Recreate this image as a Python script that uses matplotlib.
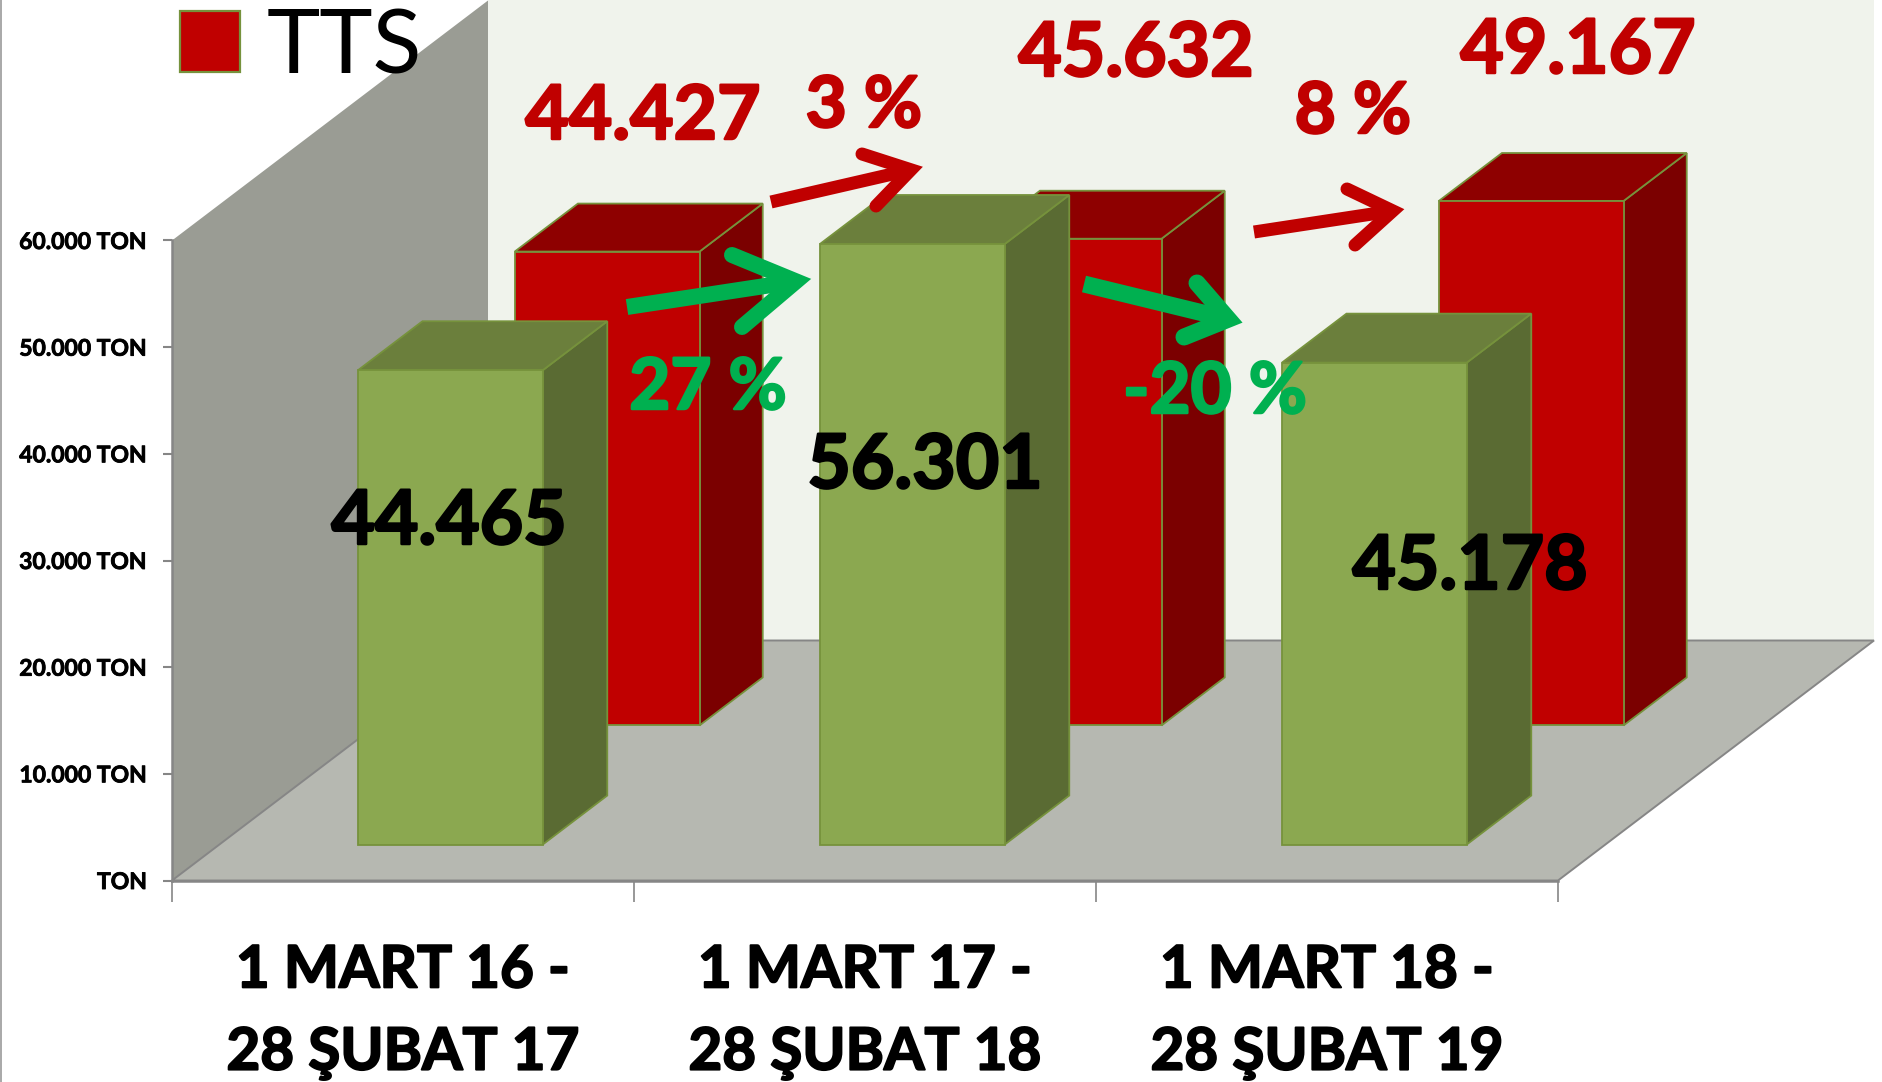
import math
import matplotlib
matplotlib.use('Agg')
import matplotlib.pyplot as plt
import matplotlib.patheffects as pe
from matplotlib.lines import Line2D
from matplotlib.patches import Patch
from matplotlib.transforms import IdentityTransform

W, H = 1882, 1082

categories = ['1 MART 16 -\n28 ŞUBAT 17', '1 MART 17 -\n28 ŞUBAT 18', '1 MART 18 -\n28 ŞUBAT 19']
tts_values = [44427, 45632, 49167]
green_values = [44465, 56301, 45178]
y_ticks = [0, 10000, 20000, 30000, 40000, 50000, 60000]
y_labels = ['TON', '10.000 TON', '20.000 TON', '30.000 TON', '40.000 TON', '50.000 TON', '60.000 TON']

# oblique depth of the 3d box, in data units
DX = 316 / 462
DY = 22500
BAR_X = 0.30
BAR_W = 0.40
GREEN_Z = (0.15, 0.354)
RED_Z = (0.646, 0.846)

EDGE = '#76923c'
GRAY = '#868686'
RED = ('#c00000', '#8e0000', '#7b0000')
GREEN = ('#8ba850', '#6b7f3c', '#5a6b33')
TXT_RED = '#c00000'
TXT_GREEN = '#00b050'
FONT = 'Lato'


def proj(x, v, z):
    return (x + z * DX, v + z * DY)


def heavy(color, w):
    # Lato bold is lighter than the original face, thicken it a bit
    return [pe.withStroke(linewidth=w, foreground=color)]


def box(ax, x, w, v, z, cols):
    z0, z1 = z
    front = [proj(x, 0, z0), proj(x + w, 0, z0), proj(x + w, v, z0), proj(x, v, z0)]
    top = [proj(x, v, z0), proj(x + w, v, z0), proj(x + w, v, z1), proj(x, v, z1)]
    side = [proj(x + w, 0, z0), proj(x + w, 0, z1), proj(x + w, v, z1), proj(x + w, v, z0)]
    for pts, c in zip((side, top, front), (cols[2], cols[1], cols[0])):
        ax.fill(*zip(*pts), facecolor=c, edgecolor=EDGE, linewidth=1.3, clip_on=False, zorder=3)


def label(ax, s, x, y, color, size=54):
    ax.annotate(s, (x, H - y), xycoords='figure pixels', ha='center', va='baseline',
                color=color, fontsize=size, fontweight='bold', family=FONT, zorder=6,
                annotation_clip=False, path_effects=heavy(color, 1.8))


def arrow(fig, tail, tip, barb1, barb2, color, px):
    lw = px * 0.72
    tr = IdentityTransform()
    # the miter join runs past the tip, so pull the drawn corner back along the shaft
    dx, dy = tip[0] - tail[0], tip[1] - tail[1]
    n = math.hypot(dx, dy)
    cx = tip[0] - dx / n * px * 0.95
    cy = tip[1] - dy / n * px * 0.95
    fig.add_artist(Line2D([tail[0], cx], [H - tail[1], H - cy], color=color, lw=lw,
                          solid_capstyle='butt', transform=tr, zorder=7))
    fig.add_artist(Line2D([barb1[0], cx, barb2[0]], [H - barb1[1], H - cy, H - barb2[1]],
                          color=color, lw=lw, solid_capstyle='round', solid_joinstyle='miter',
                          transform=tr, zorder=7))


fig = plt.figure(figsize=(W / 100, H / 100), dpi=100, facecolor='white')
ax = fig.add_axes([172 / W, (H - 880.5) / H, 1386 / W, 640 / H])
ax.set_xlim(0, 3)
ax.set_ylim(0, 60000)
ax.patch.set_visible(False)

# walls and floor
ax.fill(*zip(proj(0, 0, 1), proj(3, 0, 1), proj(3, 60000, 1), proj(0, 60000, 1)),
        facecolor='#f0f3ec', edgecolor='none', clip_on=False, zorder=1)
ax.fill(*zip(proj(0, 0, 0), proj(0, 0, 1), proj(0, 60000, 1), proj(0, 60000, 0)),
        facecolor='#9a9c94', edgecolor='none', clip_on=False, zorder=1)
ax.fill(*zip(proj(0, 0, 0), proj(3, 0, 0), proj(3, 0, 1), proj(0, 0, 1)),
        facecolor='#b6b8b1', edgecolor=GRAY, linewidth=1.4, clip_on=False, zorder=2)

for i in range(3):
    box(ax, i + BAR_X, BAR_W, tts_values[i], RED_Z, RED)
for i in range(3):
    box(ax, i + BAR_X, BAR_W, green_values[i], GREEN_Z, GREEN)

# axes
for s in ('top', 'right'):
    ax.spines[s].set_visible(False)
for s in ('left', 'bottom'):
    ax.spines[s].set_color(GRAY)
    ax.spines[s].set_linewidth(1.8)
    ax.spines[s].set_zorder(5)
ax.set_yticks(y_ticks, y_labels, fontsize=16.5, fontweight='bold', family=FONT)
ax.tick_params(axis='y', length=6.5, width=1.5, color=GRAY, pad=11.5)
for t in ax.get_yticklabels():
    t.set_path_effects(heavy('black', 0.6))
ax.set_xticks([0, 1, 2, 3], ['', '', '', ''])
ax.tick_params(axis='x', which='major', length=15, width=1.2, color=GRAY)
ax.set_xticks([0.5, 1.5, 2.5], categories, minor=True, fontsize=42, fontweight='bold',
              family=FONT, linespacing=1.68)
ax.tick_params(axis='x', which='minor', length=0, pad=46)
for t in ax.get_xticklabels(minor=True):
    t.set_path_effects(heavy('black', 1.4))

# legend
leg = ax.legend(handles=[Patch(facecolor=RED[0], edgecolor=EDGE, linewidth=1.6, label='TTS')],
                loc='upper left', bbox_to_anchor=(180 / W, 1 - 7 / H), bbox_transform=fig.transFigure,
                frameon=False, handlelength=0.66, handleheight=0.66,
                handletextpad=0.3, borderpad=0, borderaxespad=0, prop={'family': FONT, 'size': 65})

# value labels
red_pos = [(643, 139), (1136, 76), (1578, 73)]
green_pos = [(449, 544), (925, 488), (1470, 589)]
for v, (x, y) in zip(tts_values, red_pos):
    label(ax, f'{v:,}'.replace(',', '.'), x, y, TXT_RED)
for v, (x, y) in zip(green_values, green_pos):
    label(ax, f'{v:,}'.replace(',', '.'), x, y, 'black')

# change labels and arrows
label(ax, '3 %', 864, 127, TXT_RED, 51)
label(ax, '8 %', 1353, 133, TXT_RED, 51)
label(ax, '27 %', 708, 409, TXT_GREEN, 51)
label(ax, '-20 %', 1215, 413, TXT_GREEN, 51)

arrow(fig, (771, 202), (923, 167), (862, 154), (876, 206), TXT_RED, 13)
arrow(fig, (1254, 232), (1405, 209), (1347, 189), (1355, 245), TXT_RED, 13)
arrow(fig, (627, 307), (811, 279), (732, 255), (742, 327), TXT_GREEN, 16)
arrow(fig, (1084, 284), (1244, 323), (1197, 283), (1184, 337), TXT_GREEN, 17)

# thin frame line at the left edge of the slide
fig.add_artist(Line2D([0.5, 0.5], [0, H], color='#9a9a9a', lw=1.2, transform=IdentityTransform()))

fig.savefig('out.png', dpi=100)
